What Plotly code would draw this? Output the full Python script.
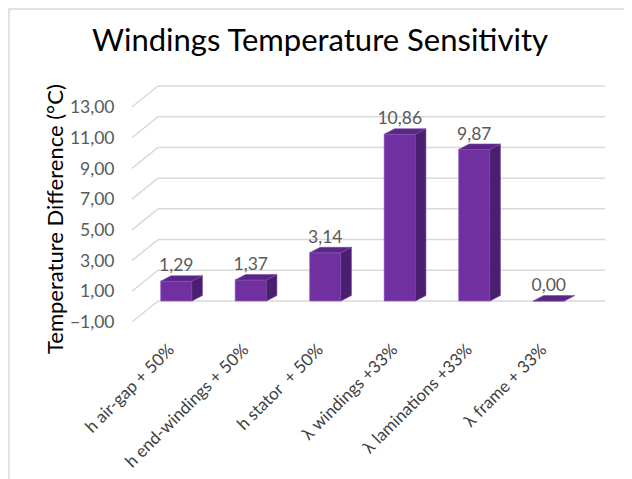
import plotly.graph_objects as go

# ---------------- data ----------------
categories = ["h air-gap + 50%", "h end-windings + 50%", "h stator  + 50%",
              "λ windings +33%", "λ laminations +33%", "λ frame + 33%"]
values = [1.29, 1.37, 3.14, 10.86, 9.87, 0.00]
y_ticks = [-1, 1, 3, 5, 7, 9, 11, 13]
title_text = "Windings Temperature Sensitivity"
y_title = "Temperature Difference (°C)"

# ---------------- geometry (window pixels, page body has 8px margin) ----------------
OFF = 8
W, H = 632 - OFF, 479 - OFF
PLOT_L, SLOT, N = 132 - OFF, 74.5, len(categories)
PLOT_T, PLOT_B = 80 - OFF, 330 - OFF
BACK_DX, BACK_DY = 26, 21          # depth offset of back wall
BAR_DX0, BAR_DY0 = 7, 5.6          # offset of bar front plane
BAR_W = 0.42                       # bar width (category units)
DEPTH_DX, DEPTH_DY = 10.5, 5.5     # bar depth (pixels)
Y_M1_PIX, PPU = 322 - OFF, 215 / 14  # pixel of -1 on front plane, px per unit

front_w = SLOT * N
PW = front_w + BACK_DX
PH = PLOT_B - PLOT_T
lo = y_ticks[0] - (PLOT_B - Y_M1_PIX) / PPU
hi = y_ticks[0] + (Y_M1_PIX - PLOT_T) / PPU
front_range = [lo, hi]
bar_shift = BAR_DY0 / PPU
back_shift = BACK_DY / PPU

grid_col = "#D9D9D9"
FONT = "Lato"

fig = go.Figure()

# bars (front face)
xs = list(range(N))
fig.add_trace(go.Bar(x=xs, y=values, width=BAR_W, xaxis="x3", yaxis="y3",
                     marker=dict(color="#7030A0", line=dict(color="#9A6AC8", width=0.6)),
                     hoverinfo="skip", showlegend=False))

ddx = DEPTH_DX / SLOT
ddy = DEPTH_DY / PPU
top_x, top_y, side_x, side_y = [], [], [], []
for i, v in zip(xs, values):
    l, r = i - BAR_W / 2, i + BAR_W / 2
    top_x += [l, r, r + ddx, l + ddx, l, None]
    top_y += [v, v, v + ddy, v + ddy, v, None]
    if v > 0:
        side_x += [r, r, r + ddx, r + ddx, r, None]
        side_y += [0, v, v + ddy, ddy, 0, None]

fig.add_trace(go.Scatter(x=side_x, y=side_y, xaxis="x3", yaxis="y3", mode="lines",
                         fill="toself", fillcolor="#4B1F70",
                         line=dict(color="#6A3C96", width=0.6),
                         hoverinfo="skip", showlegend=False))
fig.add_trace(go.Scatter(x=top_x, y=top_y, xaxis="x3", yaxis="y3", mode="lines",
                         fill="toself", fillcolor="#5A2587",
                         line=dict(color="#7A4AAA", width=0.6),
                         hoverinfo="skip", showlegend=False))

# data labels
fig.add_trace(go.Scatter(x=xs, y=[v + ddy for v in values], xaxis="x3", yaxis="y3",
                         mode="text", text=[f"{v:.2f}".replace(".", ",") for v in values],
                         textposition="top center",
                         textfont=dict(family=FONT, size=17.5, color="#595959"),
                         hoverinfo="skip", showlegend=False))

# gridlines: diagonal on the left side wall + horizontal on the back wall
shapes = []
for t in y_ticks:
    shapes.append(dict(type="line", xref="paper", yref="y2",
                       x0=0, y0=t, x1=BACK_DX / PW, y1=t + back_shift,
                       line=dict(color=grid_col, width=1.5), layer="below"))
    shapes.append(dict(type="line", xref="paper", yref="y2",
                       x0=BACK_DX / PW, y0=t + back_shift, x1=1, y1=t + back_shift,
                       line=dict(color=grid_col, width=1.5), layer="below"))
# chart border (left and top edges visible)
shapes.append(dict(type="rect", xref="paper", yref="paper",
                   x0=(1 - PLOT_L) / PW, x1=(W + 20 - PLOT_L) / PW,
                   y0=-(H + 20 - PLOT_B) / PH,
                   y1=1 + (PLOT_T - 1) / PH,
                   line=dict(color="#D9D9D9", width=1.5), layer="below"))

axis_off = dict(showgrid=False, zeroline=False, showline=False, ticks="",
                showticklabels=False)

fig.update_layout(
    width=W, height=H,
    margin=dict(l=PLOT_L, r=W - PLOT_L - PW, t=PLOT_T, b=H - PLOT_B, autoexpand=False),
    paper_bgcolor="white", plot_bgcolor="rgba(0,0,0,0)",
    separators=",.",
    showlegend=False,
    title=dict(text=title_text, x=(320 - OFF) / W, xref="container", xanchor="center",
               y=1 - (40 - OFF) / H, yref="container", yanchor="middle",
               font=dict(family=FONT, size=31, color="#000000")),
    # front plane (labels)
    xaxis2=dict(domain=[0, front_w / PW], range=[-0.5, N - 0.5], anchor="y2",
                tickvals=xs, ticktext=categories, tickangle=-45,
                showgrid=False, zeroline=False, showline=False,
                ticks="outside", ticklen=2, tickcolor="rgba(0,0,0,0)",
                tickfont=dict(family=FONT, size=17, color="#404040")),
    yaxis2=dict(domain=[0, 1], range=front_range, anchor="x2",
                tickvals=y_ticks, tickformat=".2f", showgrid=False, zeroline=False,
                showline=False, ticks="outside", ticklen=13, tickcolor="rgba(0,0,0,0)",
                tickfont=dict(family=FONT, size=17.5, color="#595959")),
    # bar plane
    xaxis3=dict(domain=[BAR_DX0 / PW, (BAR_DX0 + front_w) / PW], range=[-0.5, N - 0.5],
                anchor="y3", **axis_off),
    yaxis3=dict(domain=[0, 1], range=[lo - bar_shift, hi - bar_shift], anchor="x3",
                **axis_off),
    shapes=shapes,
    annotations=[dict(text=y_title, textangle=-90, xref="paper", yref="paper",
                      x=(54 - OFF - PLOT_L) / PW, y=(PLOT_B - (219 - OFF)) / PH,
                      xanchor="center", yanchor="middle", showarrow=False,
                      font=dict(family=FONT, size=22, color="#000000"))],
)

fig.write_html("out.html")
